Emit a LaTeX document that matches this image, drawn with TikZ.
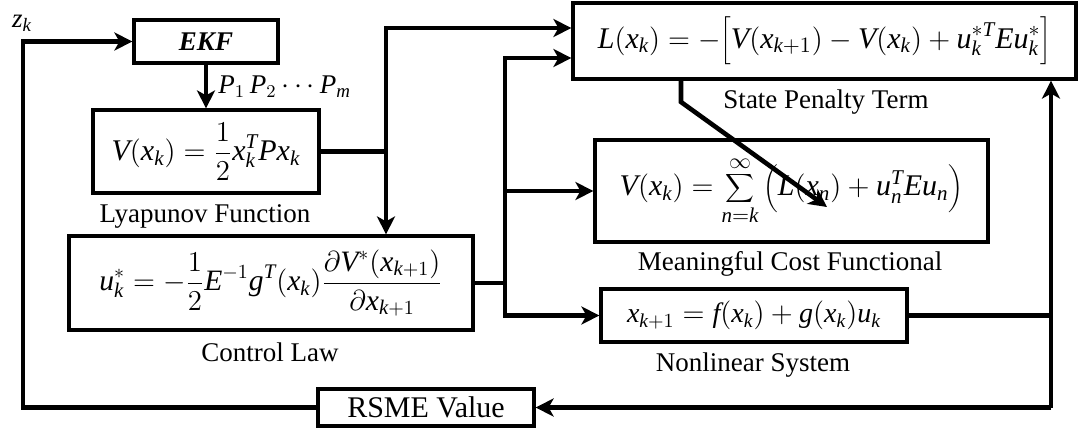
\documentclass[tikz,border=0pt]{standalone}
\usepackage{fontspec}
\setmainfont{Liberation Serif}
\newfontfamily\tms[NFSSFamily=lsr]{Liberation Serif}
\usetikzlibrary{arrows.meta}

% Times-like letters and digits in formulas
\DeclareSymbolFont{tlet}{TU}{lsr}{m}{it}
\DeclareSymbolFont{tnum}{TU}{lsr}{m}{n}
\def\setlet#1{\DeclareMathSymbol{#1}{\mathalpha}{tlet}{`#1}}
\def\setnum#1{\DeclareMathSymbol{#1}{\mathalpha}{tnum}{`#1}}
\def\dolets#1{\ifx#1\relax\else\setlet#1\expandafter\dolets\fi}
\def\donums#1{\ifx#1\relax\else\setnum#1\expandafter\donums\fi}
\dolets abcdefghijklmnopqrstuvwxyzABCDEFGHIJKLMNOPQRSTUVWXYZ\relax
\donums 0123456789\relax

\begin{document}
\begin{tikzpicture}[x=0.5pt,y=-0.5pt,
  every node/.style={font=\fontsize{13.5}{16}\selectfont},
  box/.style={draw,line width=1.6pt,inner sep=0pt,anchor=center},
  lbl/.style={inner sep=0pt,anchor=base},
  wire/.style={line width=2.3pt,line join=miter},
  arr/.style={wire,-{Stealth[length=9pt,width=9pt,inset=2.5pt]}}
]
\useasboundingbox (0,0) rectangle (1080,429);

% blocks
\node[box,minimum width=72pt,minimum height=21.5pt] (ekf) at (206,41.5) {\textbf{\textit{EKF}}};
\node[box,minimum width=113pt,minimum height=41.5pt,font=\fontsize{15}{18}\selectfont] (lyap) at (206,151.5)
  {$\displaystyle V(x_k)=\frac{1}{2}x_k^TPx_k$};
\node[box,minimum width=202pt,minimum height=47pt,font=\fontsize{14.8}{18}\selectfont] (ctrl) at (271,283)
  {$\displaystyle u_k^*=-\frac{1}{2}E^{-1}g^T(x_k)\frac{\partial V^*(x_{k+1})}{\partial x_{k+1}}$};
\node[box,minimum width=251.5pt,minimum height=38pt,font=\fontsize{15}{18}\selectfont] (pen) at (824.5,41)
  {$\displaystyle L(x_k)=-\bigg[V(x_{k+1})-V(x_k)+u_k^{*T}Eu_k^*\bigg]$};
\node[box,minimum width=196.5pt,minimum height=51pt,font=\fontsize{15}{18}\selectfont] (cost) at (791.5,191)
  {$\displaystyle V(x_k)=\sum_{n=k}^{\infty}\bigg(L(x_n)+u_n^TEu_n\bigg)$};
\node[box,minimum width=153pt,minimum height=26.5pt,font=\fontsize{14}{17}\selectfont] (sys) at (754,315.5)
  {$\displaystyle x_{k+1}=f(x_k)+g(x_k)u_k$};
\node[box,minimum width=108pt,minimum height=18.5pt,font=\fontsize{15}{18}\selectfont] (rsme) at (426,407.5)
  {RSME Value};

% captions
\node[lbl] (zk) at (22,27) {$z_k$};
\node[lbl] (lyapl) at (205,222) {Lyapunov Function};
\node[lbl] (ctrll) at (270,361) {Control Law};
\node[lbl] (penl) at (826,108) {State Penalty Term};
\node[lbl] (costl) at (790,270) {Meaningful Cost Functional};
\node[lbl] (sysl) at (753,371) {Nonlinear System};

% junction points
\coordinate (lx) at (23,0);
\coordinate (jv) at (386,151.5);
\coordinate (jc) at (505,283);
\coordinate (bend) at (681,102);
\coordinate (tip) at (827,207);
\coordinate (jr) at (1051,315.5);
\coordinate (br) at (1051,407.5);

% feedback to the filter
\draw[arr] (rsme.west) -- (rsme.west -| lx) -- (lx |- ekf.west) -- (ekf.west);
\draw[arr] (ekf.south) -- node[right,inner sep=0pt,xshift=5pt] {$P_1\,P_2\cdots P_m$} (lyap.north);

% Lyapunov function branches
\draw[wire] (lyap.east) -- (jv);
\draw[arr] (jv) |- ([yshift=6.5pt]pen.west);
\draw[arr] (jv) -- (jv |- ctrl.north);

% control law branches
\draw[wire] (ctrl.east) -- (jc);
\draw[arr] (jc) |- ([yshift=-8.5pt]pen.west);
\draw[arr] (jc) |- (cost.west);
\draw[arr] (jc) |- (sys.west);

% state penalty into the cost
\draw[arr] (pen.south -| bend) -- (bend) -- (tip);

% system output
\draw[wire] (sys.east) -- (jr);
\draw[arr] (br) -- (br |- pen.south);
\draw[arr] (br) -- (rsme.east);
\end{tikzpicture}
\end{document}
